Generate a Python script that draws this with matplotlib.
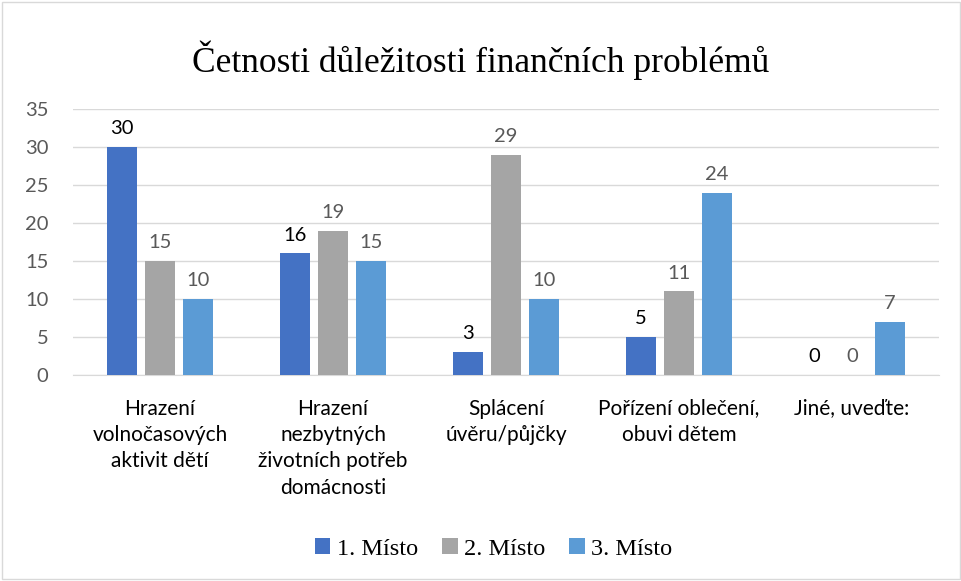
import numpy as np
import matplotlib
matplotlib.use("Agg")
import matplotlib.pyplot as plt
from matplotlib.patches import Rectangle

# data
categories = ["Hrazení\nvolnočasových\naktivit dětí",
              "Hrazení\nnezbytných\nživotních potřeb\ndomácnosti",
              "Splácení\núvěru/půjčky",
              "Pořízení oblečení,\nobuvi dětem",
              "Jiné, uveďte:"]
series_names = ["1. Místo", "2. Místo", "3. Místo"]
misto1 = [30, 16, 3, 5, 0]
misto2 = [15, 19, 29, 11, 0]
misto3 = [10, 15, 10, 24, 7]
y_ticks = [0, 5, 10, 15, 20, 25, 30, 35]

colors = ["#4472C4", "#A5A5A5", "#5B9BD5"]
label_colors = ["#000000", "#595959", "#595959"]
SANS = "Lato"
SERIF = "Liberation Serif"

fig = plt.figure(figsize=(9.62, 5.81), dpi=100)
ax = fig.add_axes([0.0764, 0.3546, 0.8992, 0.4578])

x = np.arange(len(categories))
width = 0.175
step = 0.22
for i, vals in enumerate([misto1, misto2, misto3]):
    pos = x + (i - 1) * step
    ax.bar(pos, vals, width, color=colors[i], label=series_names[i], zorder=3)
    for px, v in zip(pos, vals):
        ax.text(px, v + 1.3, str(v), ha="center", va="bottom",
                fontsize=14.5, color=label_colors[i], family=SANS)

ax.set_xlim(-0.5, len(categories) - 0.5)
ax.set_ylim(0, 35)
ax.set_yticks(y_ticks)
ax.yaxis.grid(True, color="#D9D9D9", lw=1, zorder=0)
ax.set_xticks(x)
ax.set_xticklabels(categories, fontsize=15, family=SANS, color="#000000",
                   linespacing=1.4, va="top")
for lab in ax.get_yticklabels():
    lab.set_fontsize(14.5)
    lab.set_family(SANS)
    lab.set_color("#595959")
ax.tick_params(axis="both", length=0)
ax.tick_params(axis="x", pad=17)
ax.tick_params(axis="y", pad=18)
for s in ["top", "right", "left"]:
    ax.spines[s].set_visible(False)
ax.spines["bottom"].set_color("#D9D9D9")

fig.text(0.5, 0.897, "Četnosti důležitosti finančních problémů",
         ha="center", va="center", fontsize=25.5, family=SERIF, color="#000000")

leg = fig.legend(loc="center", bbox_to_anchor=(0.513, 0.055), ncol=3, frameon=False,
                 prop={"family": SERIF, "size": 17.5}, handlelength=0.65,
                 handleheight=0.65, handletextpad=0.25, columnspacing=1.0)

# light frame around the chart
fig.patches.append(Rectangle((0.002, 0.003), 0.996, 0.994, transform=fig.transFigure,
                             fill=False, edgecolor="#D9D9D9", lw=1))

fig.savefig("out.png", dpi=100)
